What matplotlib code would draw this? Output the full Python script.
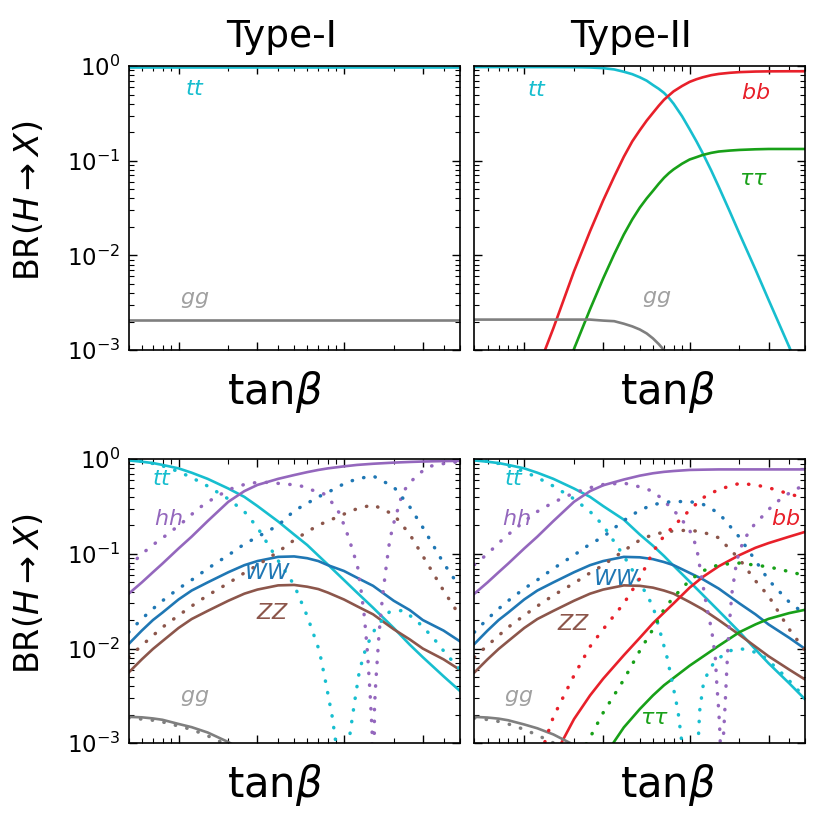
import numpy as np
import matplotlib
matplotlib.use('Agg')
import matplotlib.pyplot as plt
from matplotlib.ticker import FixedLocator, LogLocator, NullFormatter

# tanβ grid used by the bottom-row curves
t = [0.5, 0.6, 0.7, 0.8, 1, 1.2, 1.5, 2, 2.5, 3, 4, 5, 6, 7, 8, 10, 12, 15, 20, 25, 30, 40, 50]

# ---- top row ----
t_flat = [0.5, 50]
top_tt_1 = [0.975, 0.975]
top_gg_1 = [0.0021, 0.0021]

# Type-II top, finer grid around the bends
t2 = [0.5, 1, 1.5, 2, 2.5, 3, 3.5, 4, 4.5, 5, 5.5, 6, 6.5, 7, 7.5, 8, 9, 10, 11, 12,
      13.5, 15, 17.5, 20, 25, 30, 40, 50]
top_tt_2 = [0.975, 0.975, 0.974, 0.972, 0.965, 0.95, 0.92, 0.87, 0.82, 0.76, 0.70, 0.63,
            0.575, 0.52, 0.46, 0.40, 0.295, 0.215, 0.16, 0.12, 0.079, 0.053, 0.029, 0.017,
            0.0071, 0.0034, 0.00108, 0.00044]
top_bb_2 = [0.00027, 0.0017, 0.0068, 0.018, 0.038, 0.068, 0.11, 0.16, 0.21, 0.265, 0.32,
            0.38, 0.44, 0.49, 0.54, 0.615, 0.68, 0.725, 0.76, 0.80, 0.825, 0.848, 0.862,
            0.874, 0.878, 0.88, 0.88]                               # t2[1:]
top_tau_2 = [0.00026, 0.00103, 0.0027, 0.0057, 0.0103, 0.0166, 0.024, 0.032, 0.040, 0.048,
             0.057, 0.066, 0.074, 0.081, 0.093, 0.103, 0.109, 0.115, 0.121, 0.125, 0.128,
             0.130, 0.132, 0.133, 0.133, 0.133]                     # t2[2:]
top_gg_2 = [0.0021, 0.0021, 0.0021, 0.0021, 0.0021, 0.00205, 0.00202, 0.0019, 0.00178,
            0.00165, 0.0015, 0.00133, 0.00116, 0.001, 0.00085, 0.00072]   # t2[:16]

# ---- bottom row, Type-I ----
tt_1 = [0.97, 0.94, 0.91, 0.87, 0.80, 0.72, 0.62, 0.49, 0.40, 0.32, 0.22, 0.16, 0.124,
        0.096, 0.077, 0.053, 0.039, 0.027, 0.0165, 0.011, 0.0081, 0.0051, 0.0036]
hh_1 = [0.038, 0.050, 0.064, 0.079, 0.114, 0.152, 0.222, 0.355, 0.46, 0.535, 0.62, 0.68,
        0.73, 0.77, 0.80, 0.84, 0.87, 0.895, 0.92, 0.935, 0.945, 0.955, 0.96]
ww_1 = [0.0112, 0.0155, 0.020, 0.024, 0.033, 0.041, 0.050, 0.064, 0.076, 0.084, 0.093,
        0.094, 0.090, 0.084, 0.076, 0.066, 0.056, 0.046, 0.032, 0.0255, 0.020, 0.0155, 0.012]
zz_1 = [0.0056, 0.0077, 0.0099, 0.012, 0.0165, 0.0205, 0.025, 0.032, 0.038, 0.042, 0.0465,
        0.047, 0.045, 0.0425, 0.039, 0.033, 0.028, 0.023, 0.016, 0.0125, 0.0100, 0.0077, 0.0060]
gg_1 = [0.0019, 0.00188, 0.00183, 0.00177, 0.0016, 0.00148, 0.0013, 0.00103, 0.00082, 0.00068]

ww_1_dot = [0.0149, 0.0206, 0.0263, 0.032, 0.043, 0.053, 0.070, 0.097, 0.127, 0.151, 0.20,
            0.285, 0.342, 0.40, 0.447, 0.55, 0.62, 0.666, 0.51, 0.314, 0.19, 0.08, 0.045]
zz_1_dot = [0.0081, 0.0108, 0.0137, 0.0168, 0.0224, 0.0281, 0.0365, 0.049, 0.063, 0.076,
            0.105, 0.14, 0.171, 0.201, 0.222, 0.263, 0.30, 0.33, 0.26, 0.161, 0.095, 0.041, 0.0224]
gg_1_dot = [0.00185, 0.0018, 0.00175, 0.00168, 0.00152, 0.0014, 0.0012, 0.00095, 0.00075, 0.0006]

t_tt_1_dot = [0.5, 0.6, 0.7, 0.8, 1, 1.2, 1.5, 2, 2.5, 3, 4, 5, 6, 7.1, 7.8, 8.5, 8.9, 9.8,
              10.8, 11.55, 12.4, 13.6, 15.6, 18.8, 22.7, 27.3, 34.4, 41.4, 50]
tt_1_dot = [0.98, 0.95, 0.9, 0.85, 0.74, 0.64, 0.52, 0.38, 0.28, 0.19, 0.085, 0.047, 0.022,
            0.0095, 0.0042, 0.0019, 0.00106, 1e-5, 0.00115, 0.0026, 0.0058, 0.0103, 0.0168,
            0.0243, 0.0253, 0.020, 0.0132, 0.0088, 0.0061]

t_hh_1_dot = [0.5, 0.6, 0.72, 0.87, 1.1, 1.31, 1.68, 2.1, 2.66, 3.37, 4.25, 5.36, 6.47, 7.44,
              8.17, 9.38, 10.3, 11.3, 12.1, 12.7, 13.3, 13.9, 14.4, 14.8, 15.0, 15.3, 15.6,
              16.3, 17.1, 18.0, 18.8, 19.7, 21.1, 22.6, 24.9, 28.6, 32.9, 41.6, 50]
hh_1_dot = [0.073, 0.10, 0.129, 0.164, 0.227, 0.30, 0.40, 0.49, 0.56, 0.57, 0.55, 0.53, 0.47,
            0.44, 0.38, 0.27, 0.178, 0.109, 0.073, 0.041, 0.0215, 0.0088, 0.0033, 0.00135,
            1e-5, 0.0024, 0.0046, 0.0143, 0.035, 0.073, 0.129, 0.193, 0.29, 0.44, 0.56, 0.71,
            0.84, 0.91, 0.94]

# ---- bottom row, Type-II ----
tt_2 = [0.97, 0.94, 0.91, 0.87, 0.80, 0.72, 0.62, 0.49, 0.40, 0.32, 0.23, 0.16, 0.122,
        0.095, 0.075, 0.051, 0.037, 0.025, 0.015, 0.0098, 0.0070, 0.0043, 0.0029]
hh_2 = [0.038, 0.050, 0.064, 0.079, 0.114, 0.152, 0.222, 0.355, 0.46, 0.53, 0.61, 0.67,
        0.71, 0.735, 0.75, 0.77, 0.775, 0.78, 0.78, 0.78, 0.78, 0.78, 0.78]
ww_2 = [0.0112, 0.0155, 0.020, 0.024, 0.033, 0.041, 0.050, 0.064, 0.076, 0.084, 0.093,
        0.092, 0.088, 0.082, 0.076, 0.063, 0.054, 0.043, 0.030, 0.023, 0.018, 0.013, 0.0099]
zz_2 = [0.0056, 0.0077, 0.0099, 0.012, 0.0165, 0.0205, 0.025, 0.032, 0.038, 0.042, 0.0465,
        0.046, 0.044, 0.041, 0.038, 0.031, 0.026, 0.020, 0.014, 0.0105, 0.0083, 0.006, 0.0047]
bb_2 = [0.0007, 0.0018, 0.0032, 0.0048, 0.0085, 0.013, 0.0185, 0.024, 0.030, 0.044, 0.057,
        0.074, 0.097, 0.116, 0.130, 0.152, 0.171]                    # t[6:]
tau_2 = [0.0007, 0.00147, 0.0023, 0.0032, 0.0041, 0.0049, 0.0066, 0.0082, 0.0107, 0.0149,
         0.018, 0.0206, 0.0237, 0.0257]                               # t[9:]
gg_2 = [0.0019, 0.00187, 0.00182, 0.00175, 0.00158, 0.00144, 0.00124, 0.00096, 0.00075, 0.0006]

ww_2_dot = [0.0149, 0.0206, 0.0263, 0.032, 0.043, 0.053, 0.070, 0.097, 0.127, 0.151, 0.225,
            0.29, 0.33, 0.35, 0.357, 0.357, 0.335, 0.27, 0.15, 0.085, 0.053, 0.031, 0.023]
zz_2_dot = [0.0081, 0.0108, 0.0137, 0.0168, 0.0224, 0.0281, 0.0365, 0.049, 0.063, 0.076,
            0.108, 0.14, 0.16, 0.169, 0.175, 0.178, 0.17, 0.148, 0.088, 0.052, 0.036, 0.016, 0.0095]
bb_2_dot = [0.0006, 0.0019, 0.0052, 0.0105, 0.016, 0.030, 0.055, 0.105, 0.155, 0.196, 0.29,
            0.39, 0.48, 0.555, 0.535, 0.50, 0.43, 0.386]              # t[5:]
tau_2_dot = [0.0006, 0.00115, 0.0021, 0.0047, 0.0095, 0.016, 0.026, 0.035, 0.0525, 0.066,
             0.077, 0.080, 0.076, 0.073, 0.065, 0.059]                # t[7:]
gg_2_dot = [0.00185, 0.00178, 0.0017, 0.0016, 0.0014, 0.00122, 0.00101, 0.00072, 0.00055, 0.00045]

t_tt_2_dot = [0.5, 0.6, 0.7, 0.8, 1, 1.2, 1.5, 2, 2.5, 3, 4, 5, 6, 6.6, 7.3, 7.9, 8.5, 8.9,
              10, 11.3, 11.5, 12.1, 13.0, 13.9, 15.3, 17.6, 20.2, 23.2, 26.6, 29.1, 35, 42, 50]
tt_2_dot = [0.98, 0.95, 0.9, 0.85, 0.74, 0.64, 0.52, 0.38, 0.28, 0.20, 0.095, 0.05, 0.028,
            0.0155, 0.0081, 0.0042, 0.0022, 0.00115, 1e-5, 0.00115, 0.0022, 0.0042, 0.0058,
            0.0069, 0.0081, 0.0095, 0.0100, 0.0095, 0.0088, 0.0078, 0.0058, 0.0042, 0.003]

t_hh_2_dot = [0.5, 0.6, 0.7, 0.8, 1, 1.2, 1.5, 2, 2.5, 3, 4, 5, 5.75, 6.6, 7.6, 8.7, 10, 11,
              11.8, 12.7, 13.6, 14.3, 14.6, 15.0, 15.3, 15.6, 16.0, 16.4, 16.8, 17.2, 18.0,
              19.3, 21.2, 24.4, 28, 32, 37, 42.5, 50]
hh_2_dot = [0.077, 0.10, 0.13, 0.16, 0.22, 0.28, 0.35, 0.44, 0.50, 0.54, 0.56, 0.51, 0.47,
            0.40, 0.315, 0.247, 0.178, 0.119, 0.057, 0.0274, 0.0155, 0.0081, 0.0042, 0.0022,
            0.00115, 1e-5, 0.00115, 0.0026, 0.0063, 0.0143, 0.038, 0.086, 0.14, 0.20, 0.257,
            0.33, 0.40, 0.47, 0.535]

c_tt = '#17becf'
c_gg = '#7f7f7f'
c_bb = '#e8202a'
c_tau = '#18a018'
c_hh = '#9467bd'
c_ww = '#1f77b4'
c_zz = '#8c564b'
c_gg_txt = '#a0a0a0'

lw = 1.9
dot = dict(lw=2.5, ls=(0, (0.1, 3.3)), dash_capstyle='round')

fig, axes = plt.subplots(2, 2, figsize=(8.2, 8.15), dpi=100)
fig.subplots_adjust(left=0.157, right=0.982, top=0.919, bottom=0.088, wspace=0.045, hspace=0.384)

for ax in axes.flat:
    ax.set_xscale('log')
    ax.set_yscale('log')
    ax.set_xlim(0.5, 50)
    ax.set_ylim(1e-3, 1)
    ax.xaxis.set_major_locator(FixedLocator([1, 3, 10, 30]))
    ax.xaxis.set_minor_locator(LogLocator(base=10, subs=(2, 3, 4, 5, 6, 7, 8, 9)))
    ax.xaxis.set_major_formatter(NullFormatter())
    ax.xaxis.set_minor_formatter(NullFormatter())
    ax.tick_params(which='both', direction='in', top=True, right=True)
    ax.tick_params(which='major', length=6, width=1)
    ax.tick_params(which='minor', length=3.5, width=0.8)
    ax.tick_params(axis='y', labelsize=16.5, pad=6)
    for s in ax.spines.values():
        s.set_linewidth(1.2)
    ax.set_xlabel(r'tan$\beta$', fontsize=30)

for ax in axes[:, 0]:
    ax.xaxis.set_label_coords(0.44, -0.065)
for ax in axes[:, 1]:
    ax.xaxis.set_label_coords(0.585, -0.065)
    ax.tick_params(labelleft=False)
for ax in axes[:, 0]:
    ax.set_ylabel(r'BR$(H\rightarrow X)$', fontsize=24)
    ax.yaxis.set_label_coords(-0.25, 0.525)

axes[0, 0].set_title('Type-I', fontsize=27, pad=14, x=0.462)
axes[0, 1].set_title('Type-II', fontsize=27, pad=14, x=0.473)

def label(ax, x, y, s, c):
    ax.text(x, y, s, transform=ax.transAxes, color=c, fontsize=16, ha='center', va='center')

# top-left
ax = axes[0, 0]
ax.plot(t_flat, top_tt_1, color=c_tt, lw=lw)
ax.plot(t_flat, top_gg_1, color=c_gg, lw=lw)
label(ax, 0.20, 0.92, r'$tt$', c_tt)
label(ax, 0.20, 0.175, r'$gg$', c_gg_txt)

# top-right
ax = axes[0, 1]
ax.plot(t2, top_tt_2, color=c_tt, lw=lw)
ax.plot(t2[1:], top_bb_2, color=c_bb, lw=lw)
ax.plot(t2[2:], top_tau_2, color=c_tau, lw=lw)
ax.plot(t2[:16], top_gg_2, color=c_gg, lw=lw)
label(ax, 0.188, 0.915, r'$tt$', c_tt)
label(ax, 0.85, 0.905, r'$bb$', c_bb)
label(ax, 0.842, 0.604, r'$\tau\tau$', c_tau)
label(ax, 0.55, 0.18, r'$gg$', c_gg_txt)

# bottom-left
ax = axes[1, 0]
ax.plot(t, tt_1, color=c_tt, lw=lw)
ax.plot(t, hh_1, color=c_hh, lw=lw)
ax.plot(t, ww_1, color=c_ww, lw=lw)
ax.plot(t, zz_1, color=c_zz, lw=lw)
ax.plot(t[:10], gg_1, color=c_gg, lw=lw)
ax.plot(t_tt_1_dot, tt_1_dot, color=c_tt, **dot)
ax.plot(t_hh_1_dot, hh_1_dot, color=c_hh, **dot)
ax.plot(t, ww_1_dot, color=c_ww, **dot)
ax.plot(t, zz_1_dot, color=c_zz, **dot)
ax.plot(t[:10], gg_1_dot, color=c_gg, **dot)
label(ax, 0.10, 0.93, r'$tt$', c_tt)
label(ax, 0.12, 0.79, r'$hh$', c_hh)
label(ax, 0.42, 0.60, r'$WW$', c_ww)
label(ax, 0.435, 0.46, r'$ZZ$', c_zz)
label(ax, 0.198, 0.16, r'$gg$', c_gg_txt)

# bottom-right
ax = axes[1, 1]
ax.plot(t, tt_2, color=c_tt, lw=lw)
ax.plot(t, hh_2, color=c_hh, lw=lw)
ax.plot(t, ww_2, color=c_ww, lw=lw)
ax.plot(t, zz_2, color=c_zz, lw=lw)
ax.plot(t[6:], bb_2, color=c_bb, lw=lw)
ax.plot(t[9:], tau_2, color=c_tau, lw=lw)
ax.plot(t[:10], gg_2, color=c_gg, lw=lw)
ax.plot(t_tt_2_dot, tt_2_dot, color=c_tt, **dot)
ax.plot(t_hh_2_dot, hh_2_dot, color=c_hh, **dot)
ax.plot(t, ww_2_dot, color=c_ww, **dot)
ax.plot(t, zz_2_dot, color=c_zz, **dot)
ax.plot(t[5:], bb_2_dot, color=c_bb, **dot)
ax.plot(t[7:], tau_2_dot, color=c_tau, **dot)
ax.plot(t[:10], gg_2_dot, color=c_gg, **dot)
label(ax, 0.12, 0.93, r'$tt$', c_tt)
label(ax, 0.127, 0.79, r'$hh$', c_hh)
label(ax, 0.43, 0.58, r'$WW$', c_ww)
label(ax, 0.30, 0.42, r'$ZZ$', c_zz)
label(ax, 0.94, 0.79, r'$bb$', c_bb)
label(ax, 0.545, 0.09, r'$\tau\tau$', c_tau)
label(ax, 0.135, 0.16, r'$gg$', c_gg_txt)

fig.savefig('out.png', dpi=100)
